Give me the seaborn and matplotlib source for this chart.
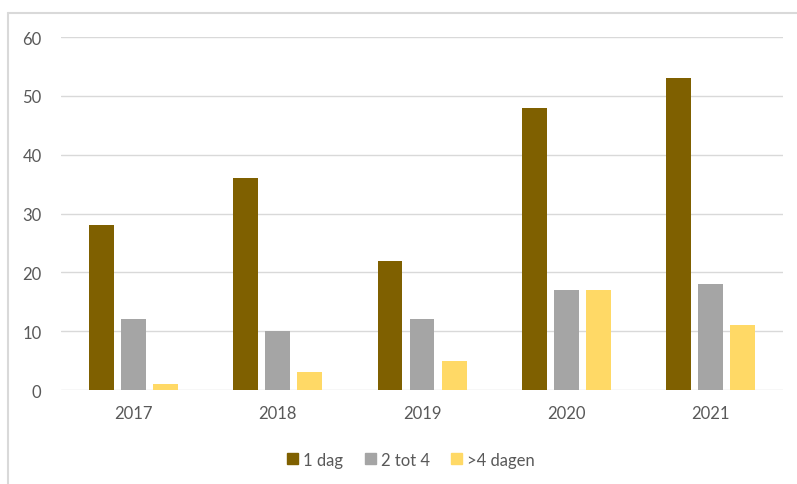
import pandas as pd
import matplotlib.pyplot as plt
import seaborn as sns
from matplotlib.lines import Line2D

# DATA
years = ["2017", "2018", "2019", "2020", "2021"]
series_names = ["1 dag", "2 tot 4", ">4 dagen"]
een_dag = [28, 36, 22, 48, 53]
twee_tot_vier = [12, 10, 12, 17, 18]
meer_dan_vier = [1, 3, 5, 17, 11]

COLORS = ["#7F6000", "#A5A5A5", "#FFD966"]
TEXT_COLOR = "#595959"
GRID_COLOR = "#D9D9D9"

df = pd.DataFrame({
    "Jaar": years * 3,
    "Duur": [series_names[0]] * 5 + [series_names[1]] * 5 + [series_names[2]] * 5,
    "Aantal": een_dag + twee_tot_vier + meer_dan_vier,
})

sns.set_style("white")
plt.rcParams["font.family"] = ["Lato", "DejaVu Sans"]

fig = plt.figure(figsize=(7.97, 4.85), dpi=100)
ax = fig.add_axes([0.0765, 0.1938, 0.906, 0.7278])

sns.barplot(data=df, x="Jaar", y="Aantal", hue="Duur", palette=COLORS,
            width=0.665, gap=0.22, ax=ax, saturation=1, edgecolor="none")

ax.set_ylim(0, 60)
ax.set_yticks(range(0, 61, 10))
ax.set_xlim(-0.5, 4.5)
ax.grid(axis="y", color=GRID_COLOR, linewidth=1)
ax.set_axisbelow(True)
for spine in ax.spines.values():
    spine.set_visible(False)
ax.tick_params(axis="both", length=0, labelsize=12, labelcolor=TEXT_COLOR)
ax.tick_params(axis="y", pad=14)
ax.tick_params(axis="x", pad=11)
ax.set_xlabel("")
ax.set_ylabel("")

handles = [plt.Rectangle((0, 0), 1, 1, color=c) for c in COLORS]
ax.legend(handles, series_names, loc="center", bbox_to_anchor=(0.516, 0.05),
          bbox_transform=fig.transFigure, ncol=3, frameon=False,
          fontsize=12, labelcolor=TEXT_COLOR, handlelength=0.65,
          handleheight=0.65, handletextpad=0.3, columnspacing=1.3)

# chart border (left and top visible)
fig.add_artist(Line2D([8 / 797, 8 / 797], [0, 1 - 14 / 485],
                      transform=fig.transFigure, color=GRID_COLOR, linewidth=1.5))
fig.add_artist(Line2D([8 / 797, 1], [1 - 14 / 485, 1 - 14 / 485],
                      transform=fig.transFigure, color=GRID_COLOR, linewidth=1.5))

plt.savefig("out.png", dpi=100)
